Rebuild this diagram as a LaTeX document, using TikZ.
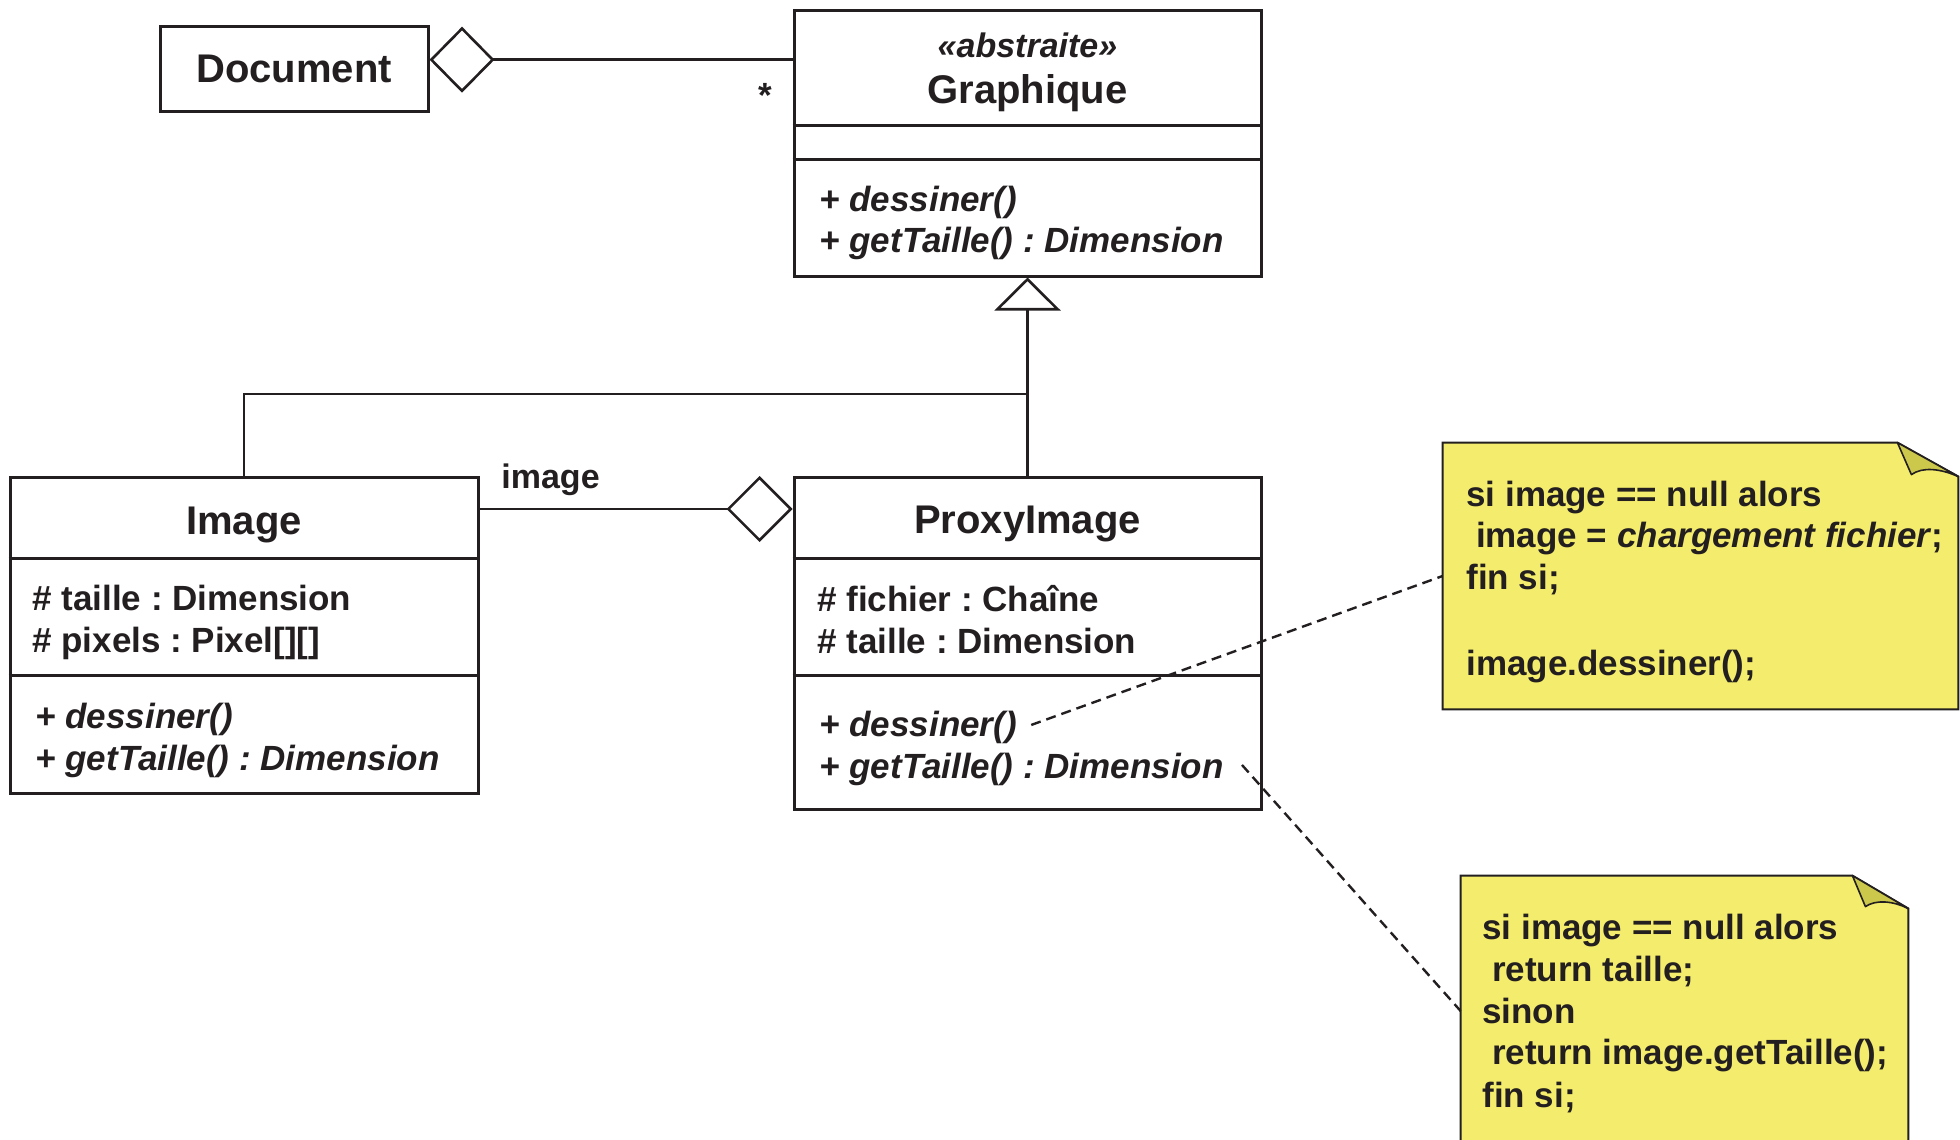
\documentclass[tikz,border=0pt]{standalone}
\usepackage{fontspec}
\setmainfont{Liberation Sans}
\usetikzlibrary{arrows.meta,calc}
\frenchspacing

\definecolor{ink}{HTML}{231F20}
\definecolor{notefill}{HTML}{F4EC6C}
\definecolor{foldfill}{HTML}{CCC84C}

\tikzset{
  x=0.5pt, y=-0.5pt,
  umlbox/.style={draw=ink, line width=1.5pt, fill=white, inner sep=0pt, rectangle},
  compsep/.style={draw=ink, line width=1.5pt},
  clsname/.style={inner sep=0pt, anchor=base, text=ink, font=\fontsize{20}{24}\selectfont\bfseries},
  stereo/.style={inner sep=0pt, anchor=base, text=ink, font=\fontsize{17}{21}\selectfont\bfseries\itshape},
  member/.style={inner sep=0pt, anchor=base west, text=ink, font=\fontsize{17.5}{21}\selectfont\bfseries},
  op/.style={member, font=\fontsize{17.5}{21}\selectfont\bfseries\itshape},
  rolename/.style={inner sep=0pt, anchor=base west, text=ink, font=\fontsize{17}{21}\selectfont\bfseries},
  link/.style={draw=ink, line width=1.3pt},
  notelink/.style={draw=ink, line width=1.2pt, dash pattern=on 5pt off 3pt},
  notebody/.style={draw=ink, line width=1pt, fill=notefill, line join=miter},
  notefold/.style={draw=ink, line width=0.8pt, fill=foldfill, line join=round},
  noteframe/.style={inner sep=0pt, draw=none, fill=none, rectangle},
  codeline/.style={inner sep=0pt, anchor=base west, text=ink, font=\fontsize{17.5}{21}\selectfont\bfseries},
}

\begin{document}
\begin{tikzpicture}
\useasboundingbox (0,0) rectangle (1960,1140);
\clip (0,0) rectangle (1960,1140);

% ---------- class boxes ----------
\node[umlbox, minimum width=134pt, minimum height=42.5pt] (doc) at (294,68.5) {};
\node[umlbox, minimum width=233.5pt, minimum height=133pt] (graph) at (1027.5,143) {};
\node[umlbox, minimum width=234pt, minimum height=158pt] (image) at (244,635) {};
\node[umlbox, minimum width=233.5pt, minimum height=166pt] (proxy) at (1027.5,643) {};

% compartment separators
\draw[compsep] ($(graph.north west)+(0,116.5)$) -- ($(graph.north east)+(0,116.5)$);
\draw[compsep] ($(graph.north west)+(0,150.5)$) -- ($(graph.north east)+(0,150.5)$);
\draw[compsep] ($(image.north west)+(0,83)$) -- ($(image.north east)+(0,83)$);
\draw[compsep] ($(image.north west)+(0,200)$) -- ($(image.north east)+(0,200)$);
\draw[compsep] ($(proxy.north west)+(0,83)$) -- ($(proxy.north east)+(0,83)$);
\draw[compsep] ($(proxy.north west)+(0,200)$) -- ($(proxy.north east)+(0,200)$);

% ---------- class texts ----------
\node[clsname] (docname) at (294,82) {Document};

\node[stereo] (gstereo) at (1027.5,57) {«abstraite»};
\node[clsname] (gname) at (1027.5,103) {Graphique};
\node[op] (gm1) at (819,211) {+ dessiner()};
\node[op] (gm2) at (819,252) {+ getTaille() : Dimension};

\node[clsname] (iname) at (244,534) {Image};
\node[member] (ia1) at (32,610) {\# taille : Dimension};
\node[member] (ia2) at (32,652) {\# pixels : Pixel[][]};
\node[op] (im1) at (35,728) {+ dessiner()};
\node[op] (im2) at (35,770) {+ getTaille() : Dimension};

\node[clsname] (pname) at (1027.5,533) {ProxyImage};
\node[member] (pa1) at (817,611) {\# fichier : Chaîne};
\node[member] (pa2) at (817,653) {\# taille : Dimension};
\node[op] (pm1) at (819,736) {+ dessiner()};
\node[op] (pm2) at (819,778) {+ getTaille() : Dimension};

% ---------- relations ----------
% Document <>--- Graphique
\coordinate (docjoin) at ($(doc.north east)!0.4!(doc.south east)$);
\draw[link, {Diamond[open,length=32.5pt,width=33pt]}-] (docjoin) -- (docjoin -| graph.west);
\node[member, anchor=base] (mult) at (765,107) {*};

% generalisation towards Graphique
\coordinate (genjoin) at (1027.5,394);
\draw[link, -{Triangle[open,length=16.5pt,width=33pt]}] (proxy.north) -- (graph.south);
\draw[link] (image.north) |- (genjoin);

% ProxyImage <>--- Image
\coordinate (aggjoin) at ($(proxy.north west)+(0,33.5)$);
\draw[link, {Diamond[open,length=33pt,width=33pt]}-] (aggjoin) -- (aggjoin -| image.east);
\node[rolename] (role) at (501,488) {image};

% ---------- notes ----------
\node[noteframe, minimum width=257.5pt, minimum height=133pt] (note1) at (1700.5,576) {};
\draw[notebody] (note1.north west) -- ($(note1.north east)+(-61,0)$)
  -- ($(note1.north east)+(0,34)$) -- (note1.south east) -- (note1.south west) -- cycle;
\draw[notefold] ($(note1.north east)+(-61,0)$) -- ($(note1.north east)+(-47,32)$)
  .. controls ($(note1.north east)+(-36,24)$) and ($(note1.north east)+(-18,26)$) .. ($(note1.north east)+(0,34)$) -- cycle;

\node[codeline] (n1l1) at (1466,506) {si image == null alors};
\node[codeline] (n1l2) at (1466,547) {\ image = \textit{chargement fichier};};
\node[codeline] (n1l3) at (1466,589) {fin si;};
\node[codeline] (n1l4) at (1466,675) {image.dessiner();};

\node[noteframe, minimum width=223.5pt, minimum height=135pt] (note2) at (1684.5,1011) {};
\draw[notebody] (note2.north west) -- ($(note2.north east)+(-56,0)$)
  -- ($(note2.north east)+(0,33)$) -- (note2.south east) -- (note2.south west) -- cycle;
\draw[notefold] ($(note2.north east)+(-56,0)$) -- ($(note2.north east)+(-43,31)$)
  .. controls ($(note2.north east)+(-33,24)$) and ($(note2.north east)+(-16,25)$) .. ($(note2.north east)+(0,33)$) -- cycle;

\node[codeline] (n2l1) at (1482,939) {si image == null alors};
\node[codeline] (n2l2) at (1482,981) {\ return taille;};
\node[codeline] (n2l3) at (1482,1023) {sinon};
\node[codeline] (n2l4) at (1482,1064) {\ return image.getTaille();};
\node[codeline] (n2l5) at (1482,1107) {fin si;};

% note anchors
\draw[notelink] ([xshift=7pt,yshift=1pt]pm1.east) -- (note1.west);
\draw[notelink] ([xshift=9pt,yshift=2pt]pm2.east) -- (note2.west);

\end{tikzpicture}
\end{document}
